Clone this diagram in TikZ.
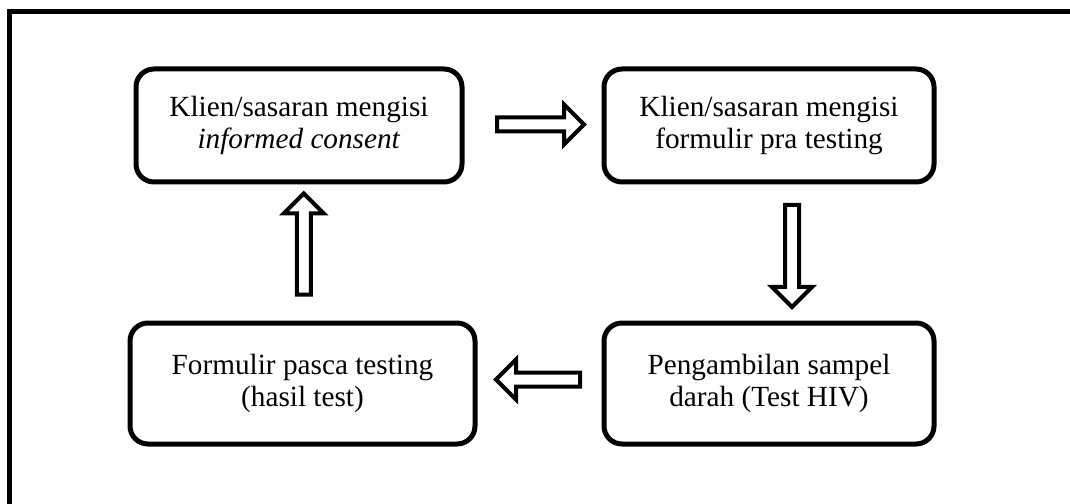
\documentclass[tikz,border=0pt]{standalone}
\usepackage{fontspec}
\setmainfont{Liberation Serif}
\usetikzlibrary{calc,shapes.arrows}
\newdimen\pxu
\pxu=0.025cm

\begin{document}
\begin{tikzpicture}[
    x=0.025cm,y=-0.025cm,
    page frame/.style={line width=5\pxu,line join=miter},
    step box/.style={draw,line width=5\pxu,rounded corners=18\pxu,inner sep=0pt,align=center,
      font=\fontsize{20.8}{22.3}\selectfont},
    flow arrow/.style={draw,single arrow,line width=4\pxu,inner sep=5\pxu,
      single arrow head extend=13\pxu,single arrow tip angle=90},
  ]
  \useasboundingbox (0,0) rectangle (1070,504);
  \draw[page frame] (9.5,504) -- (9.5,11.5) -- (1070,11.5);

  \node[step box,minimum width=326\pxu,minimum height=113\pxu] (consent) at (299,125.5)
    {Klien/sasaran mengisi\\\textit{informed consent}};
  \node[step box,minimum width=330\pxu,minimum height=113\pxu] (pra-testing) at (769,125.5)
    {Klien/sasaran mengisi\\formulir pra testing};
  \node[step box,minimum width=330\pxu,minimum height=121\pxu] (sampel) at (769,383.5)
    {Pengambilan sampel\\darah (Test HIV)};
  \node[step box,minimum width=345\pxu,minimum height=121\pxu] (pasca-testing) at (302.5,383.5)
    {Formulir pasca testing\\(hasil test)};

  \node[flow arrow,minimum height=87\pxu] (arrow-right)
    at ($ (consent.east) ! 0.5 ! (pra-testing.west) + (4,-1) $) {};
  \node[flow arrow,minimum height=102\pxu,shape border rotate=270] (arrow-down)
    at ($ (pra-testing.south) ! 0.5 ! (sampel.north) + (23,0) $) {};
  \node[flow arrow,minimum height=84\pxu,shape border rotate=180] (arrow-left)
    at ($ (sampel.west) ! 0.5 ! (pasca-testing.east) + (2,-4) $) {};
  \node[flow arrow,minimum height=101\pxu,shape border rotate=90] (arrow-up)
    at ($ (pasca-testing.north) ! 0.5 ! (consent.south) + (3,-5) $) {};

\end{tikzpicture}
\end{document}
